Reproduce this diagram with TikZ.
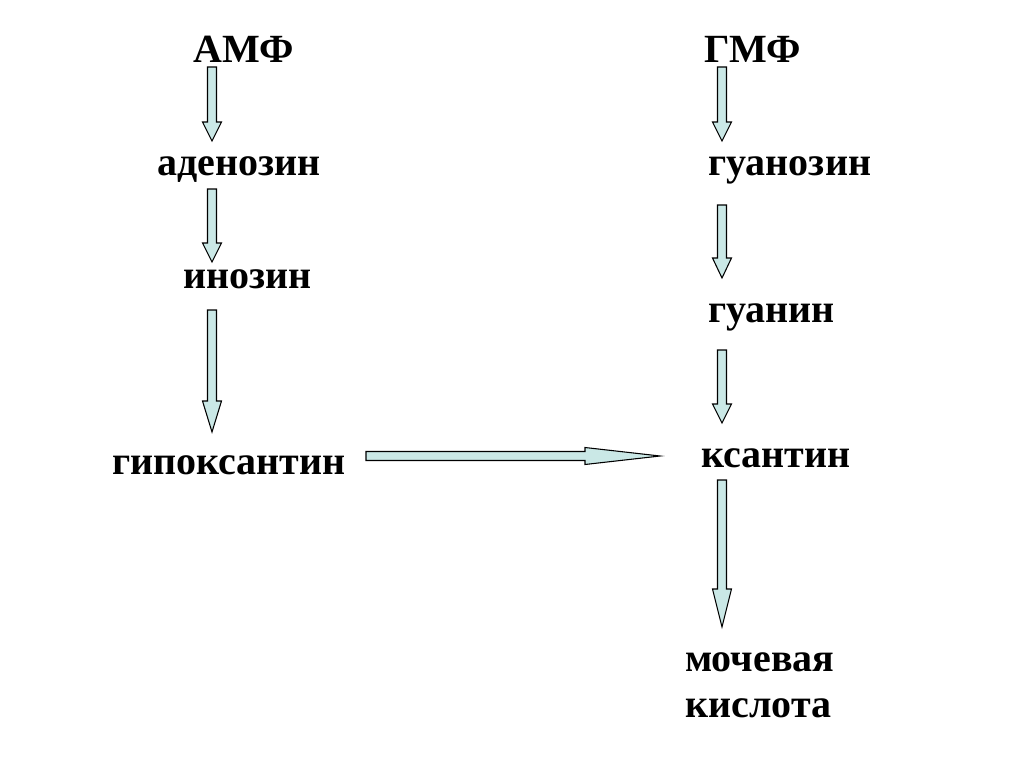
\documentclass[tikz,border=0pt]{standalone}
\usepackage{fontspec}
\setmainfont{Liberation Serif}
\usetikzlibrary{calc}
\definecolor{arrowfill}{RGB}{202,232,230}
\tikzset{
  lbl/.style={inner sep=0pt, anchor=base west, font=\fontsize{30}{36}\selectfont\bfseries},
  blk/.style={draw=black, fill=arrowfill, line width=0.8pt, line join=miter}
}
\newcommand\vblk[3]{%
  \draw[blk] ($(#1)+(-4.5,0)$) -- ($(#2)+(-4.5,-#3)$) -- ($(#2)+(-9.5,-#3)$) -- (#2)
    -- ($(#2)+(9.5,-#3)$) -- ($(#2)+(4.5,-#3)$) -- ($(#1)+(4.5,0)$) -- cycle;}
\begin{document}
\begin{tikzpicture}[x=0.75pt,y=-0.75pt]
\useasboundingbox[fill=white] (0,0) rectangle (1024,767);
% labels
\node[lbl] (amf) at (193,63) {АМФ};
\node[lbl] (gmf) at (704,63) {ГМФ};
\node[lbl] (aden) at (157,175) {аденозин};
\node[lbl] (guanoz) at (708,175) {гуанозин};
\node[lbl] (inoz) at (183,288) {инозин};
\node[lbl] (guanin) at (708,322) {гуанин};
\node[lbl] (gipox) at (112,474) {гипоксантин};
\node[lbl] (ksant) at (701,467) {ксантин};
\node[lbl] (moch) at (685,671) {мочевая};
\node[lbl] (kisl) at (685,717) {кислота};
% arrow end points
\coordinate (a1s) at (212,67);  \coordinate (a1e) at (212,141);
\coordinate (a2s) at (212,189); \coordinate (a2e) at (212,262);
\coordinate (a3s) at (212,310); \coordinate (a3e) at (212,432);
\coordinate (b1s) at (722,67);  \coordinate (b1e) at (722,141);
\coordinate (b2s) at (722,205); \coordinate (b2e) at (722,278);
\coordinate (b3s) at (722,350); \coordinate (b3e) at (722,423);
\coordinate (b4s) at (722,480); \coordinate (b4e) at (722,627);
\coordinate (hs) at (366,456);  \coordinate (he) at (660,456);
% vertical block arrows
\vblk{a1s}{a1e}{19}
\vblk{a2s}{a2e}{19}
\vblk{a3s}{a3e}{31}
\vblk{b1s}{b1e}{19}
\vblk{b2s}{b2e}{20}
\vblk{b3s}{b3e}{19}
\vblk{b4s}{b4e}{38}
% horizontal block arrow
\draw[blk] ($(hs)+(0,-4.5)$) -- ($(he)+(-75,-4.5)$) -- ($(he)+(-75,-8.5)$) -- (he)
  -- ($(he)+(-75,8.5)$) -- ($(he)+(-75,4.5)$) -- ($(hs)+(0,4.5)$) -- cycle;
\end{tikzpicture}
\end{document}
